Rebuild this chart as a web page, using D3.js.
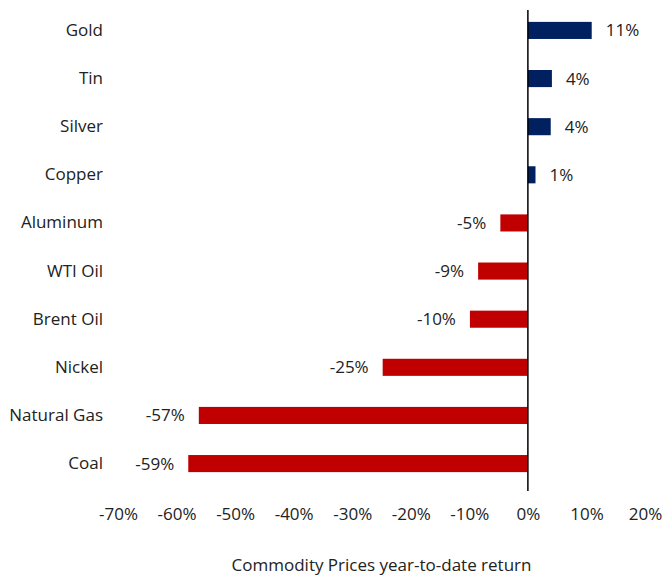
<!DOCTYPE html>
<html>
<head>
<meta charset="utf-8">
<script src="https://cdn.jsdelivr.net/npm/d3@7"></script>
<style>
  body { margin: 0; background: #fff; }
  text { font-family: "Open Sans", "Noto Sans", sans-serif; fill: #222; }
</style>
</head>
<body>
<div id="chart"></div>
<script>
// Data
var commodities = ["Gold", "Tin", "Silver", "Copper", "Aluminum", "WTI Oil", "Brent Oil", "Nickel", "Natural Gas", "Coal"];
var returns = [10.9, 4.1, 3.9, 1.3, -4.7, -8.5, -9.9, -24.8, -56.2, -58.0];
var labels = ["11%", "4%", "4%", "1%", "-5%", "-9%", "-10%", "-25%", "-57%", "-59%"];
var ticks = [-70, -60, -50, -40, -30, -20, -10, 0, 10, 20];
var axisTitle = "Commodity Prices year-to-date return";

var data = commodities.map(function(c, i) {
  return { name: c, value: returns[i], label: labels[i] };
});

var W = 664, H = 578;
var margin = { top: 6, right: 19, bottom: 90, left: 118 };
var width = W - margin.left - margin.right,
    height = H - margin.top - margin.bottom;
var fontSize = "17px";

var svg = d3.select("#chart")
  .append("svg")
    .attr("width", W)
    .attr("height", H)
  .append("g")
    .attr("transform", `translate(${margin.left},${margin.top})`);

var x = d3.scaleLinear()
    .domain([-70, 20])
    .range([0, width]);

var y = d3.scaleBand()
    .domain(commodities)
    .range([0, height])
    .paddingInner(0.645)
    .paddingOuter(0.33);

// Bars
svg.selectAll("rect.bar")
  .data(data)
  .enter()
  .append("rect")
    .attr("class", "bar")
    .attr("x", function(d) { return x(Math.min(0, d.value)); })
    .attr("y", function(d) { return y(d.name); })
    .attr("width", function(d) { return Math.abs(x(d.value) - x(0)); })
    .attr("height", y.bandwidth())
    .attr("fill", function(d) { return d.value >= 0 ? "#002060" : "#C00000"; });

// Zero line
svg.append("line")
  .attr("x1", x(0)).attr("x2", x(0))
  .attr("y1", 4).attr("y2", height + 3)
  .attr("stroke", "#000")
  .attr("stroke-width", 1.5);

// Value labels
svg.selectAll("text.val")
  .data(data)
  .enter()
  .append("text")
    .attr("class", "val")
    .attr("x", function(d) { return d.value >= 0 ? x(d.value) + 14 : x(d.value) - 14; })
    .attr("y", function(d) { return y(d.name) + y.bandwidth() / 2; })
    .attr("dy", "0.35em")
    .attr("text-anchor", function(d) { return d.value >= 0 ? "start" : "end"; })
    .style("font-size", fontSize)
    .text(function(d) { return d.label; });

// Category labels
var yAxis = svg.append("g")
  .call(d3.axisLeft(y).tickSize(0).tickPadding(15));
yAxis.select(".domain").remove();
yAxis.selectAll("text")
  .style("font-size", fontSize)
  .style("font-family", "'Open Sans', 'Noto Sans', sans-serif")
  .attr("fill", "#222");

// X axis labels
var xAxis = svg.append("g")
  .attr("transform", `translate(0, ${height})`)
  .call(d3.axisBottom(x).tickValues(ticks).tickSize(0).tickPadding(20)
    .tickFormat(function(d) { return d + "%"; }));
xAxis.select(".domain").remove();
xAxis.selectAll("text")
  .style("font-size", fontSize)
  .style("font-family", "'Open Sans', 'Noto Sans', sans-serif")
  .attr("fill", "#222");

// Axis title
svg.append("text")
  .attr("x", width / 2)
  .attr("y", height + 83)
  .attr("text-anchor", "middle")
  .style("font-size", fontSize)
  .text(axisTitle);
</script>
</body>
</html>
